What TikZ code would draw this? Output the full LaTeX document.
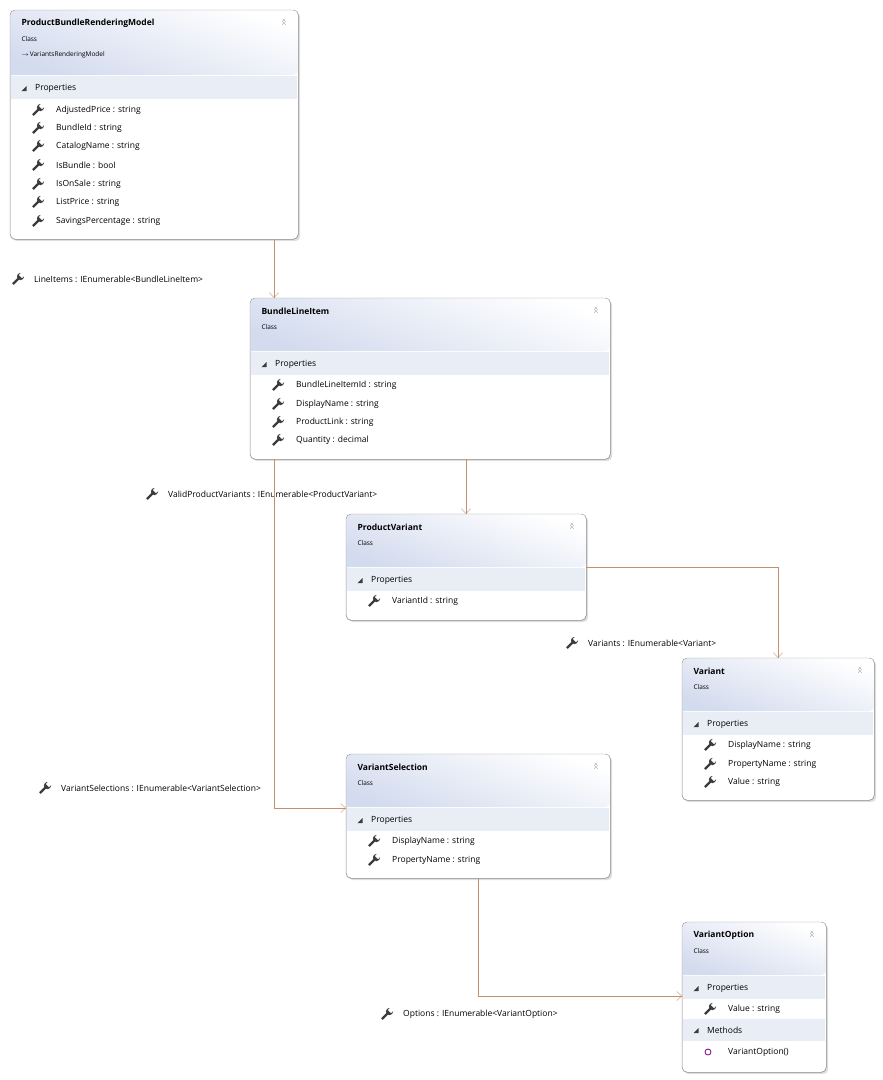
\documentclass[tikz,border=0pt]{standalone}
\usepackage{fontspec}
\setmainfont{Open Sans}
\usetikzlibrary{arrows.meta,shadows}
\definecolor{hdr}{HTML}{D3DBEE}
\definecolor{band}{HTML}{E9EDF6}
\definecolor{edgecol}{HTML}{C4906C}
\definecolor{framecol}{HTML}{9A9A9A}
\definecolor{iconcol}{HTML}{3C3C3C}
% icon macros
\newcommand{\wrench}[1]{%
  \begin{scope}[shift={#1}]
    \draw[iconcol,line width=2.4pt] (-5,5) -- (1,-1);
    \fill[iconcol] (2.5,-2.5) circle (3.6pt);
    \fill[white,rotate=45] (2.5*1.414,-2.2) rectangle (2.5*1.414+4,2.2);
  \end{scope}}
\newcommand{\bandtri}[1]{\fill[iconcol] #1 ++(-2.5,2) -- ++(5,0) -- ++(0,-5) -- cycle;}
\newcommand{\classframe}[6]{%
  \node[classbox,minimum width=#4pt-#2pt,minimum height=#5pt-#3pt,anchor=north west] (#1) at (#2,#3) {};
  \shade[top color=white,bottom color=hdr,shading angle=-20,rounded corners=5pt]
    (#2,#3) -- (#4,#3) -- (#4,#6) [sharp corners] -- (#2,#6) [rounded corners=5pt] -- cycle;
  \draw[framecol,rounded corners=5pt] (#1.north west) rectangle (#1.south east);
  \node[font=\bfseries\fontsize{8.5}{10}\selectfont,anchor=west] (#1-title) at (#2+8,#3+13) {};
  \node[font=\fontsize{6.5}{8}\selectfont,anchor=west] (#1-kind) at (#2+8,#3+29) {Class};
  \node[font=\fontsize{9}{10}\selectfont,text=iconcol] at (#4-14,#3+11) {$\scriptscriptstyle\wedge$};
  \node[font=\fontsize{9}{10}\selectfont,text=iconcol] at (#4-14,#3+14) {$\scriptscriptstyle\wedge$};}
\begin{document}
\begin{tikzpicture}[x=1pt,y=-1pt,
  classbox/.style={draw=framecol,fill=white,rounded corners=5pt,drop shadow={opacity=0.25,shadow xshift=2pt,shadow yshift=-2pt}},
  title/.style={font=\bfseries\fontsize{8.5}{10}\selectfont,anchor=west},
  member/.style={font=\fontsize{8.5}{10}\selectfont,anchor=west,inner sep=0pt},
  bandtext/.style={font=\fontsize{8.5}{10}\selectfont,anchor=west,inner sep=0pt},
  assoc/.style={draw=edgecol,-{Straight Barb[length=5pt,width=9pt]}},
  elabel/.style={font=\fontsize{8.5}{10}\selectfont,anchor=west,inner sep=0pt}]
\useasboundingbox (0,0) rectangle (883,1080);

% ProductBundleRenderingModel
\classframe{pbrm}{10}{10}{298}{239}{75}
\node[title] at (10+8,10+13) {ProductBundleRenderingModel};
\node[font=\fontsize{6.5}{8}\selectfont,anchor=west] at (18,55) {$\rightarrow$\hspace{1pt}VariantsRenderingModel};
\fill[band] (11,76) rectangle (297,99);
\bandtri{(24,89)}
\node[bandtext] at (35,88) {Properties};
\foreach \y/\t in {110/AdjustedPrice : string,128/BundleId : string,146/CatalogName : string,
  165/IsBundle : bool,184/IsOnSale : string,202/ListPrice : string,221/SavingsPercentage : string}{
  \wrench{(38,\y)}
  \node[member] at (56,\y) {\t};}

% BundleLineItem
\classframe{bli}{250}{298}{610}{459}{351}
\node[title] at (258,311) {BundleLineItem};
\fill[band] (251,352) rectangle (609,375);
\bandtri{(264,365)}
\node[bandtext] at (275,364) {Properties};
\foreach \y/\t in {385/BundleLineItemId : string,404/DisplayName : string,422/ProductLink : string,440/Quantity : decimal}{
  \wrench{(278,\y)}
  \node[member] at (296,\y) {\t};}

% ProductVariant
\classframe{pv}{346}{514}{586}{620}{567}
\node[title] at (354,527) {ProductVariant};
\fill[band] (347,568) rectangle (585,591);
\bandtri{(360,581)}
\node[bandtext] at (371,580) {Properties};
\wrench{(374,601)}
\node[member] at (392,601) {VariantId : string};

% Variant
\classframe{var}{682}{658}{874}{800}{711}
\node[title] at (690,671) {Variant};
\fill[band] (683,712) rectangle (873,735);
\bandtri{(696,725)}
\node[bandtext] at (707,724) {Properties};
\foreach \y/\t in {745/DisplayName : string,764/PropertyName : string,782/Value : string}{
  \wrench{(710,\y)}
  \node[member] at (728,\y) {\t};}

% VariantSelection
\classframe{vs}{346}{754}{610}{878}{807}
\node[title] at (354,767) {VariantSelection};
\fill[band] (347,808) rectangle (609,831);
\bandtri{(360,821)}
\node[bandtext] at (371,820) {Properties};
\foreach \y/\t in {841/DisplayName : string,860/PropertyName : string}{
  \wrench{(374,\y)}
  \node[member] at (392,\y) {\t};}

% VariantOption
\classframe{vo}{682}{922}{826}{1072}{975}
\node[title] at (690,935) {VariantOption};
\fill[band] (683,976) rectangle (825,999);
\bandtri{(696,989)}
\node[bandtext] at (707,988) {Properties};
\wrench{(710,1009)}
\node[member] at (728,1009) {Value : string};
\fill[band] (683,1019) rectangle (825,1041);
\bandtri{(696,1031)}
\node[bandtext] at (707,1030) {Methods};
\draw[violet,line width=0.8pt] (708,1052) circle (3pt);
\node[member] at (728,1052) {VariantOption()};

% associations
\coordinate (lineitems) at (274,239);
\draw[assoc] (lineitems) -- (lineitems |- bli.north);
\wrench{(18,279)}
\node[elabel] at (34,279) {LineItems : IEnumerable<BundleLineItem>};

\coordinate (validpv) at (466,459);
\draw[assoc] (validpv) -- (validpv |- pv.north);
\wrench{(152,494)}
\node[elabel] at (168,494) {ValidProductVariants : IEnumerable<ProductVariant>};

\coordinate (selections) at (274,459);
\draw[assoc] (selections) |- (vs.west |- 0,808);
\wrench{(45,788)}
\node[elabel] at (61,788) {VariantSelections : IEnumerable<VariantSelection>};

\coordinate (variants) at (586,567);
\draw[assoc] (variants) -| (778,0 |- var.north);
\wrench{(572,643)}
\node[elabel] at (588,643) {Variants : IEnumerable<Variant>};

\coordinate (options) at (478,878);
\draw[assoc] (options) |- (vo.west |- 0,996);
\wrench{(387,1014)}
\node[elabel] at (403,1014) {Options : IEnumerable<VariantOption>};
\end{tikzpicture}
\end{document}
